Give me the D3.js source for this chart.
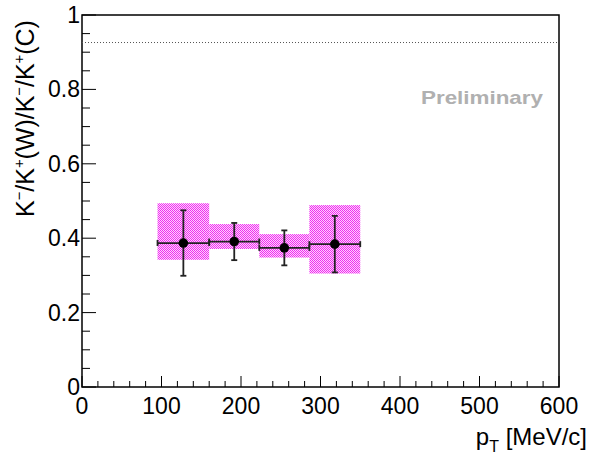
<!DOCTYPE html>
<html>
<head>
<meta charset="utf-8">
<script src="https://cdn.jsdelivr.net/npm/d3@7"></script>
<style>
  body { margin: 0; background: #fff; }
  text { font-family: "Liberation Sans", Arial, Helvetica, sans-serif; }
</style>
</head>
<body>
<div id="chart"></div>
<script>
// data
var ptCenter = [127.5, 191.5, 254.5, 318];
var ptLow    = [95, 160, 223, 286];
var ptHigh   = [160, 223, 286, 350];
var ratio    = [0.387, 0.391, 0.374, 0.384];
var statErr  = [0.088, 0.050, 0.047, 0.076];
var sysLow   = [0.342, 0.371, 0.348, 0.305];
var sysHigh  = [0.494, 0.438, 0.411, 0.489];
var refLine  = 0.926;
var xTicks = [0, 100, 200, 300, 400, 500, 600];
var yTicks = [0, 0.2, 0.4, 0.6, 0.8, 1];

var width = 611, height = 458;
var padL = 82, padR = 559, padT = 15, padB = 387;

var svg = d3.select("#chart").append("svg")
  .attr("width", width)
  .attr("height", height);

// magenta checker used for the systematic boxes
var pat = svg.append("defs").append("pattern")
  .attr("id", "hatch")
  .attr("patternUnits", "userSpaceOnUse")
  .attr("width", 2).attr("height", 2);
pat.append("rect").attr("width", 2).attr("height", 2).attr("fill", "#ee30ee");
pat.append("rect").attr("x", 1).attr("y", 0).attr("width", 1).attr("height", 1).attr("fill", "#ffd0ff");
pat.append("rect").attr("x", 0).attr("y", 1).attr("width", 1).attr("height", 1).attr("fill", "#ffd0ff");

var x = d3.scaleLinear().domain([0, 600]).range([padL, padR]);
var y = d3.scaleLinear().domain([0, 1]).range([padB, padT]);

// frame
svg.append("rect")
  .attr("x", padL).attr("y", padT)
  .attr("width", padR - padL).attr("height", padB - padT)
  .attr("fill", "none").attr("stroke", "#000").attr("stroke-width", 1.5);

// ticks on left and bottom
var yMinor = d3.range(0, 1.0001, 0.05);
svg.append("g").selectAll("line").data(yMinor).enter().append("line")
  .attr("x1", padL)
  .attr("x2", function(d) { return Math.abs(d / 0.2 - Math.round(d / 0.2)) < 1e-6 ? padL + 14 : padL + 8; })
  .attr("y1", function(d) { return y(d); })
  .attr("y2", function(d) { return y(d); })
  .attr("stroke", "#000").attr("stroke-width", 1);

var xMinor = d3.range(0, 600.001, 20);
svg.append("g").selectAll("line").data(xMinor).enter().append("line")
  .attr("x1", function(d) { return x(d); })
  .attr("x2", function(d) { return x(d); })
  .attr("y1", padB)
  .attr("y2", function(d) { return d % 100 === 0 ? padB - 11 : padB - 6; })
  .attr("stroke", "#000").attr("stroke-width", 1);

// tick labels
svg.append("g").selectAll("text").data(yTicks).enter().append("text")
  .attr("x", padL - 2)
  .attr("y", function(d) { return y(d) + 8; })
  .attr("text-anchor", "end")
  .attr("font-size", 23)
  .text(function(d) { return d3.format("~g")(d); });

svg.append("g").selectAll("text").data(xTicks).enter().append("text")
  .attr("x", function(d) { return x(d); })
  .attr("y", 413.5)
  .attr("text-anchor", "middle")
  .attr("font-size", 23)
  .text(function(d) { return d; });

// dotted reference line
svg.append("line")
  .attr("x1", x(0)).attr("x2", x(600))
  .attr("y1", y(refLine)).attr("y2", y(refLine))
  .attr("stroke", "#555").attr("stroke-width", 1)
  .attr("stroke-dasharray", "1,2");

// systematic boxes
var idx = d3.range(ratio.length);
svg.append("g").selectAll("rect").data(idx).enter().append("rect")
  .attr("x", function(i) { return x(ptLow[i]); })
  .attr("width", function(i) { return x(ptHigh[i]) - x(ptLow[i]); })
  .attr("y", function(i) { return y(sysHigh[i]); })
  .attr("height", function(i) { return y(sysLow[i]) - y(sysHigh[i]); })
  .attr("fill", "url(#hatch)");

// error bars
var eb = svg.append("g").attr("stroke", "#222").attr("stroke-width", 1.8);
idx.forEach(function(i) {
  var cx = x(ptCenter[i]), cy = y(ratio[i]);
  var yt = y(ratio[i] + statErr[i]), yb = y(ratio[i] - statErr[i]);
  var xl = x(ptLow[i]), xr = x(ptHigh[i]);
  eb.append("line").attr("x1", cx).attr("x2", cx).attr("y1", yt).attr("y2", yb);
  eb.append("line").attr("x1", cx - 3).attr("x2", cx + 3).attr("y1", yt).attr("y2", yt);
  eb.append("line").attr("x1", cx - 3).attr("x2", cx + 3).attr("y1", yb).attr("y2", yb);
  eb.append("line").attr("x1", xl).attr("x2", xr).attr("y1", cy).attr("y2", cy);
  eb.append("line").attr("x1", xl).attr("x2", xl).attr("y1", cy - 3).attr("y2", cy + 3);
  eb.append("line").attr("x1", xr).attr("x2", xr).attr("y1", cy - 3).attr("y2", cy + 3);
});

// markers
svg.append("g").selectAll("circle").data(idx).enter().append("circle")
  .attr("cx", function(i) { return x(ptCenter[i]); })
  .attr("cy", function(i) { return y(ratio[i]); })
  .attr("r", 4.8)
  .attr("fill", "#000");

// Preliminary
svg.append("text")
  .attr("x", 421).attr("y", 103.5)
  .attr("font-size", 19).attr("font-weight", "bold")
  .attr("fill", "#b0b0b0")
  .attr("textLength", 122).attr("lengthAdjust", "spacingAndGlyphs")
  .text("Preliminary");

// x axis title
var xt = svg.append("text")
  .attr("x", 587).attr("y", 445)
  .attr("text-anchor", "end")
  .attr("font-size", 24);
xt.append("tspan").text("p");
xt.append("tspan").attr("dy", 7).attr("font-size", 16).text("T");
xt.append("tspan").attr("dy", -7).text(" [MeV/c]");

// y axis title: built at the origin, then rotated and fitted to the reference length
var ytl = svg.append("text")
  .attr("x", 0).attr("y", 0)
  .attr("text-anchor", "start")
  .attr("font-size", 22);
var parts = [["K", "\u2212"], ["/K", "+"], ["(W)/K", "\u2212"], ["/K", "+"], ["(C)", null]];
parts.forEach(function(p, k) {
  ytl.append("tspan").attr("dy", k > 0 ? 9 : 0).text(p[0]);
  if (p[1]) ytl.append("tspan").attr("dy", -9).attr("font-size", 13).text(p[1]);
});
var bw = ytl.node().getBBox().width;
var s = bw > 0 ? 197 / bw : 1;
ytl.attr("transform", "translate(34,217) rotate(-90) scale(" + s + ")");
</script>
</body>
</html>
